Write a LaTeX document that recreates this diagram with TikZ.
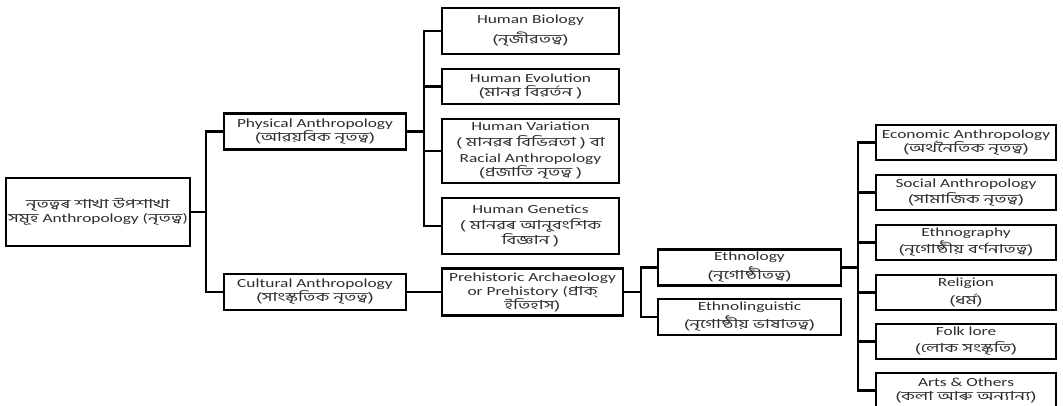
\documentclass[tikz,border=0pt]{standalone}
\usepackage{fontspec}
\setmainfont[FakeStretch=1.4]{Carlito}
\newfontfamily\bnfont[Script=Bengali,FakeStretch=1.5]{Hind Siliguri}
\newcommand{\bn}[1]{{\bnfont #1}}
\lineskiplimit=-20pt

\begin{document}
\begin{tikzpicture}[x=0.75pt, y=-0.75pt, line width=1.6pt]

    % style
    \tikzset{font=\fontsize{9.3}{10.5}\selectfont};
    \definecolor{mytext}{RGB}{45, 45, 45}
    \tikzset{box/.style={rectangle, draw=black, line width=2.2pt, align=center, inner sep=0pt, text=mytext}}

    % page as large as the reference
    \useasboundingbox (0,0) rectangle (1063,406);

    % reference coordinates (where the connectors branch)
    \coordinate (RootJoin) at (206,212);
    \coordinate (PhysJoin) at (424,131.5);
    \coordinate (PreJoin) at (641,292);
    \coordinate (EthJoin) at (858,267.5);

    % root
    \node [box, minimum width=138pt, minimum height=51pt] (root) at (98,212) {\bn{নৃতত্বৰ শাখা উপশাখা}\\\bn{সমূহ} Anthropology (\bn{নৃতত্ব})};

    % Physical & Cultural
    \node [box, minimum width=136.5pt, minimum height=26.6pt] (phys) at (315,131.5) {Physical Anthropology\\\bn{(আৱয়বিক নৃতত্ব)}};
    \node [box, minimum width=136.5pt, minimum height=27pt] (cult) at (315,292) {Cultural Anthropology\\\bn{(সাংস্কৃতিক নৃতত্ব)}};
    \draw (root.east) -- (RootJoin) |- (phys.west);
    \draw (RootJoin) |- (cult.west);

    % Physical Anthropology branches
    \foreach \y/\h/\name/\txt in {31/46/hbio/{Human Biology\\[4.5pt]\bn{(নৃজীৱতত্ব)}},
        86.5/35/hevo/{Human Evolution\\\bn{(মানৱ বিৱৰ্তন )}},
        151/64/hvar/{Human Variation\\[1.5pt]\bn{( মানৱৰ বিভিন্নতা ) বা}\\[1.5pt]Racial Anthropology\\\bn{(প্ৰজাতি নৃতত্ব )}},
        226/56/hgen/{Human Genetics\\[1.5pt]\bn{( মানৱৰ আনুবংশিক}\\[1pt]\bn{বিজ্ঞান )}}}
    {
        \node [box, minimum width=132.75pt, minimum height=\h*0.75pt] (\name) at (530.5,\y) {\txt};
        \draw (phys.east) -- (PhysJoin) |- (\name.west);
    }

    % Cultural Anthropology branch
    \node [box, minimum width=135.75pt, minimum height=35.25pt] (prehist) at (532.5,292) {Prehistoric Archaeology\\or Prehistory (\bn{প্ৰাক্}\\\bn{ইতিহাস)}};
    \draw (cult.east) -- (prehist.west);

    \node [box, minimum width=137.25pt, minimum height=26.6pt] (ethnol) at (749.5,267.5) {Ethnology\\[3.5pt]\bn{(নৃগোষ্ঠীতত্ব)}};
    \node [box, minimum width=137.25pt, minimum height=27pt] (ethling) at (749.5,317) {Ethnolinguistic\\[3pt]\bn{(নৃগোষ্ঠীয় ভাষাতত্ব)}};
    \draw (prehist.east) -- (PreJoin) |- (ethnol.west);
    \draw (PreJoin) |- (ethling.west);

    % Ethnology branches
    \foreach \y/\name/\txt in {142.5/econ/{Economic Anthropology\\\bn{(অৰ্থনৈতিক নৃতত্ব)}},
        192.5/social/{Social Anthropology\\[1.5pt]\bn{(সামাজিক নৃতত্ব)}},
        242.5/ethgr/{Ethnography\\[2.5pt]\bn{(নৃগোষ্ঠীয় বৰ্ণনাতত্ব)}},
        292.5/relig/{Religion\\[2.5pt]\bn{(ধৰ্ম)}},
        341.5/folk/{Folk lore\\[2.5pt]\bn{(লোক সংস্কৃতি)}}}
    {
        \node [box, minimum width=135pt, minimum height=26.25pt] (\name) at (966,\y) {\txt};
        \draw (ethnol.east) -- (EthJoin) |- (\name.west);
    }
    % last box runs off the bottom edge
    \node [box, minimum width=135pt, minimum height=26.25pt] (arts) at (966,390.5) {Arts \& Others\\\bn{(কলা আৰু অন্যান্য)}};
    \draw (ethnol.east) -- (EthJoin) |- (arts.west);

\end{tikzpicture}
\end{document}
